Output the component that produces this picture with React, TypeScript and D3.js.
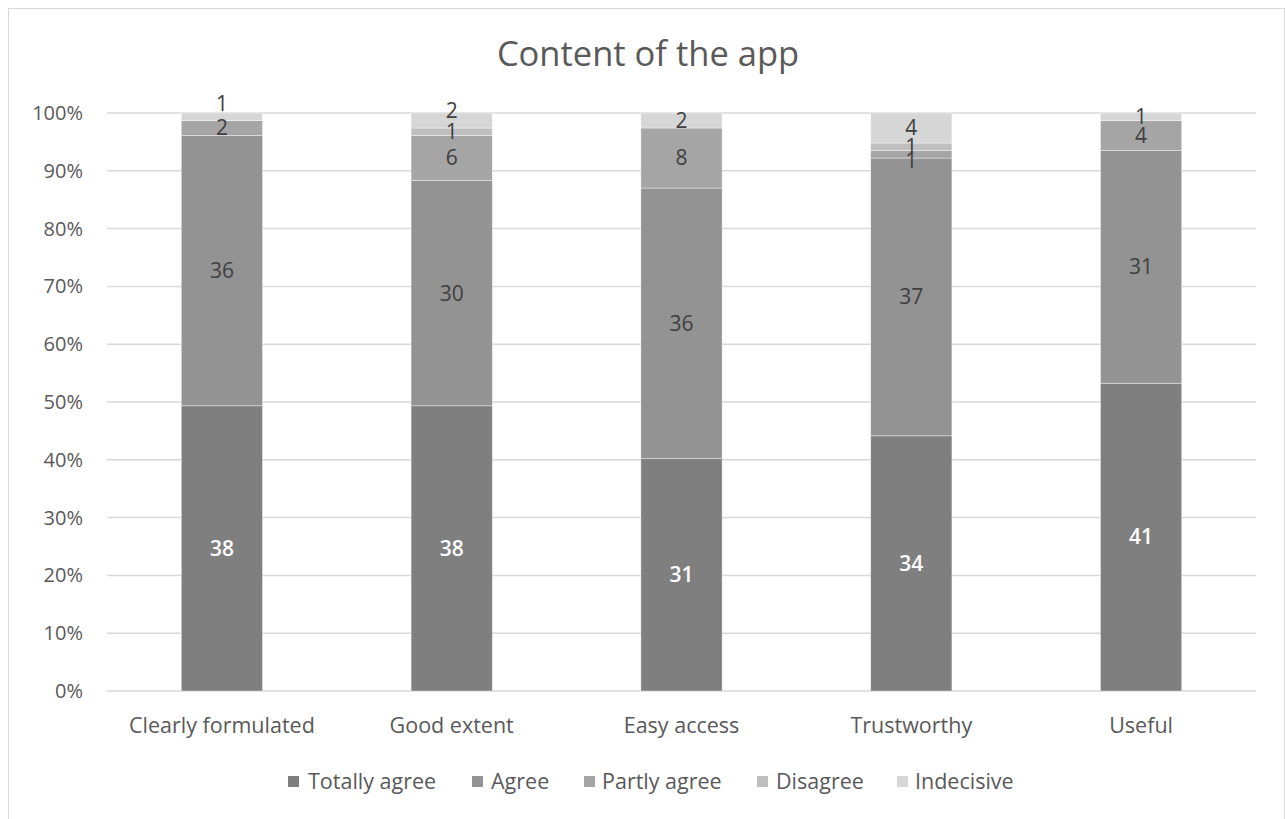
import React from "react";
import * as d3 from "d3";

// Survey responses (counts) per statement about the app's content
const categories = ["Clearly formulated", "Good extent", "Easy access", "Trustworthy", "Useful"];
const seriesNames = ["Totally agree", "Agree", "Partly agree", "Disagree", "Indecisive"];
const totallyAgree = [38, 38, 31, 34, 41];
const agree = [36, 30, 36, 37, 31];
const partlyAgree = [2, 6, 8, 1, 4];
const disagree = [0, 1, 0, 1, 0];
const indecisive = [1, 2, 2, 4, 1];
const yTicks = [0, 0.1, 0.2, 0.3, 0.4, 0.5, 0.6, 0.7, 0.8, 0.9, 1.0];

const seriesColors = ["#7f7f7f", "#939393", "#a5a5a5", "#bfbfbf", "#d6d6d6"];
const labelColors = ["#ffffff", "#404040", "#404040", "#404040", "#404040"];

// Hand-placed label nudges (px) where small segments would overlap
const labelNudge: Record<string, number> = {
  "Clearly formulated|Indecisive": -13,
  "Good extent|Indecisive": -10,
  "Trustworthy|Partly agree": 6,
};

const W = 1285;
const H = 819;
const FONT = "'Open Sans', 'Noto Sans', sans-serif";
const TEXT = "#595959";

export default function App() {
  const margin = { left: 107, right: 1256, top: 113, bottom: 691 };
  const seriesValues = [totallyAgree, agree, partlyAgree, disagree, indecisive];

  const rows = categories.map((c, i) => {
    const r: Record<string, number | string> = { category: c };
    seriesNames.forEach((s, j) => (r[s] = seriesValues[j][i]));
    return r;
  });

  const stacked = d3
    .stack<Record<string, number | string>>()
    .keys(seriesNames)
    .offset(d3.stackOffsetExpand)(rows);

  const x = d3
    .scaleBand<string>()
    .domain(categories)
    .range([margin.left, margin.right])
    .paddingInner(1.83 / 2.83)
    .paddingOuter(1.83 / 2.83 / 2);
  const y = d3.scaleLinear().domain([0, 1]).range([margin.bottom, margin.top]);
  const pct = d3.format(".0%");

  const legendItems = [
    { name: "Totally agree", sx: 288, tx: 308 },
    { name: "Agree", sx: 472, tx: 491 },
    { name: "Partly agree", sx: 584, tx: 602 },
    { name: "Disagree", sx: 757, tx: 776 },
    { name: "Indecisive", sx: 897, tx: 915 },
  ];

  return (
    <svg
      width={W}
      height={H}
      style={{ position: "absolute", left: 0, top: 0, background: "#fff" }}
      fontFamily={FONT}
    >
      <rect x={8.5} y={8.5} width={1276} height={830} fill="#fff" stroke="#d9d9d9" strokeWidth={1} />
      <text x={648} y={66} textAnchor="middle" fontSize={34.5} fill={TEXT}>
        Content of the app
      </text>

      {yTicks.map((t) => (
        <g key={t}>
          <line x1={margin.left} x2={margin.right} y1={y(t)} y2={y(t)} stroke="#d9d9d9" strokeWidth={1.5} />
          <text x={83} y={y(t)} dy="0.35em" textAnchor="end" fontSize={20} fill={TEXT}>
            {pct(t)}
          </text>
        </g>
      ))}

      {stacked.map((layer, j) => (
        <g key={layer.key}>
          {layer.map((d, i) => (
            <rect
              key={i}
              x={x(categories[i])}
              width={x.bandwidth()}
              y={y(d[1])}
              height={Math.max(0, y(d[0]) - y(d[1]))}
              fill={seriesColors[j]}
              stroke="#ffffff"
              strokeOpacity={0.5}
              strokeWidth={0.75}
            />
          ))}
        </g>
      ))}

      {stacked.map((layer, j) => (
        <g key={"l" + layer.key}>
          {layer.map((d, i) => {
            const v = seriesValues[j][i];
            if (!v) return null;
            const nudge = labelNudge[categories[i] + "|" + layer.key] || 0;
            return (
              <text
                key={i}
                x={(x(categories[i]) as number) + x.bandwidth() / 2}
                y={y((d[0] + d[1]) / 2) + nudge}
                dy="0.35em"
                textAnchor="middle"
                fontSize={21}
                fontWeight={j === 0 ? 600 : 400}
                fill={labelColors[j]}
              >
                {v}
              </text>
            );
          })}
        </g>
      ))}

      {categories.map((c) => (
        <text
          key={c}
          x={(x(c) as number) + x.bandwidth() / 2}
          y={733}
          textAnchor="middle"
          fontSize={21.5}
          fill={TEXT}
        >
          {c}
        </text>
      ))}

      {legendItems.map((l, j) => (
        <g key={l.name}>
          <rect x={l.sx} y={776} width={11} height={11} fill={seriesColors[j]} />
          <text x={l.tx} y={781.5} dy="0.35em" fontSize={21.5} fill={TEXT}>
            {seriesNames[j]}
          </text>
        </g>
      ))}
    </svg>
  );
}
